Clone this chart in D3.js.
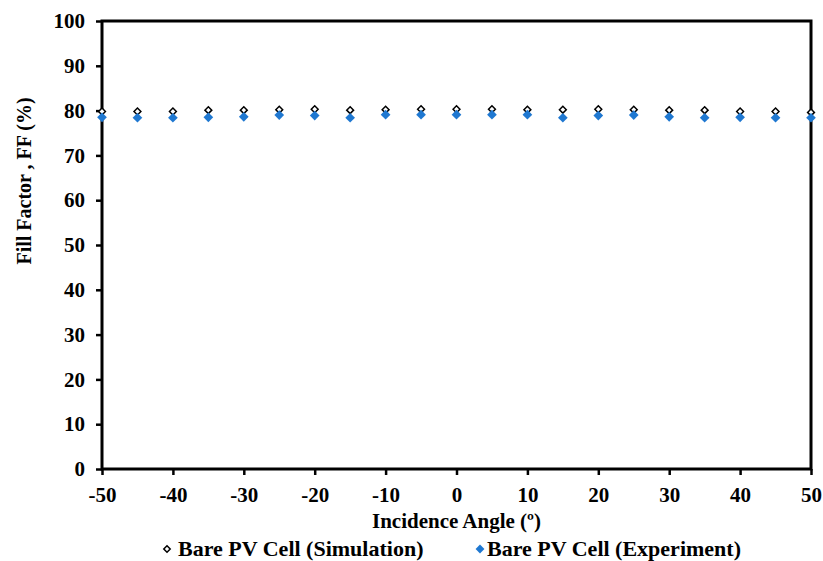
<!DOCTYPE html>
<html><head><meta charset="utf-8">
<script src="https://cdn.jsdelivr.net/npm/d3@7"></script>
<style>body{margin:0;background:#fff}svg{display:block}text{font-family:"Liberation Serif","Times New Roman",serif;font-weight:bold}</style>
</head><body><svg id="c" width="823" height="561"></svg>
<script>
const angles = [-50,-45,-40,-35,-30,-25,-20,-15,-10,-5,0,5,10,15,20,25,30,35,40,45,50];
const simulation = [79.8,79.8,79.8,80.1,80.1,80.2,80.3,80.1,80.2,80.3,80.3,80.3,80.2,80.2,80.3,80.2,80.1,80.1,79.8,79.8,79.6];
const experiment = [78.5,78.4,78.4,78.5,78.6,79.0,78.9,78.4,79.1,79.1,79.1,79.1,79.1,78.4,78.9,79.0,78.6,78.4,78.5,78.4,78.4];
const xTicks = [-50,-40,-30,-20,-10,0,10,20,30,40,50];
const yTicks = [0,10,20,30,40,50,60,70,80,90,100];
const seriesNames = ["Bare PV Cell (Simulation)","Bare PV Cell (Experiment)"];

const svg = d3.select("#c");
const L=102,R=811,T=21,B=469;
const x = d3.scaleLinear().domain([-50,50]).range([L,R]);
const y = d3.scaleLinear().domain([0,100]).range([B,T]);
const fmt = d => String(d);

const xa = svg.append("g").attr("transform",`translate(0,${B})`)
  .call(d3.axisBottom(x).tickValues(xTicks).tickSize(6).tickPadding(12).tickFormat(fmt));
const ya = svg.append("g").attr("transform",`translate(${L},0)`)
  .call(d3.axisLeft(y).tickValues(yTicks).tickSize(6).tickPadding(11).tickFormat(fmt));
[xa,ya].forEach(a=>{
  a.select(".domain").remove();
  a.selectAll(".tick line").attr("stroke","#000").attr("stroke-width",2.5);
  a.selectAll("text").attr("font-size",21).attr("fill","#000");
});
svg.append("rect").attr("x",L).attr("y",T).attr("width",R-L).attr("height",B-T)
  .attr("fill","none").attr("stroke","#000").attr("stroke-width",3);

const diamond = d3.symbol().type(d3.symbolDiamond2);
svg.append("g").selectAll("path").data(angles.map((a,i)=>[a,simulation[i]])).join("path")
  .attr("d",diamond.size(30)).attr("transform",d=>`translate(${x(d[0])},${y(d[1])})`)
  .attr("fill","#fff").attr("stroke","#000").attr("stroke-width",1.5);
svg.append("g").selectAll("path").data(angles.map((a,i)=>[a,experiment[i]])).join("path")
  .attr("d",diamond.size(60)).attr("transform",d=>`translate(${x(d[0])},${y(d[1])})`)
  .attr("fill","#1F78D1");

svg.append("text").attr("x",(L+R)/2).attr("y",528).attr("text-anchor","middle").attr("font-size",21).text("Incidence Angle (º)");
svg.append("text").attr("transform",`translate(31,181) rotate(-90)`).attr("text-anchor","middle").attr("font-size",20).text("Fill Factor , FF (%)");

const lg = svg.append("g");
lg.append("path").attr("d",diamond.size(26)).attr("transform","translate(167,549)").attr("fill","#fff").attr("stroke","#000").attr("stroke-width",1.5);
lg.append("text").attr("x",178).attr("y",556).attr("font-size",22).text(seriesNames[0]);
lg.append("path").attr("d",diamond.size(50)).attr("transform","translate(480,549)").attr("fill","#1F78D1");
lg.append("text").attr("x",487).attr("y",556).attr("font-size",22).text(seriesNames[1]);
</script></body></html>
